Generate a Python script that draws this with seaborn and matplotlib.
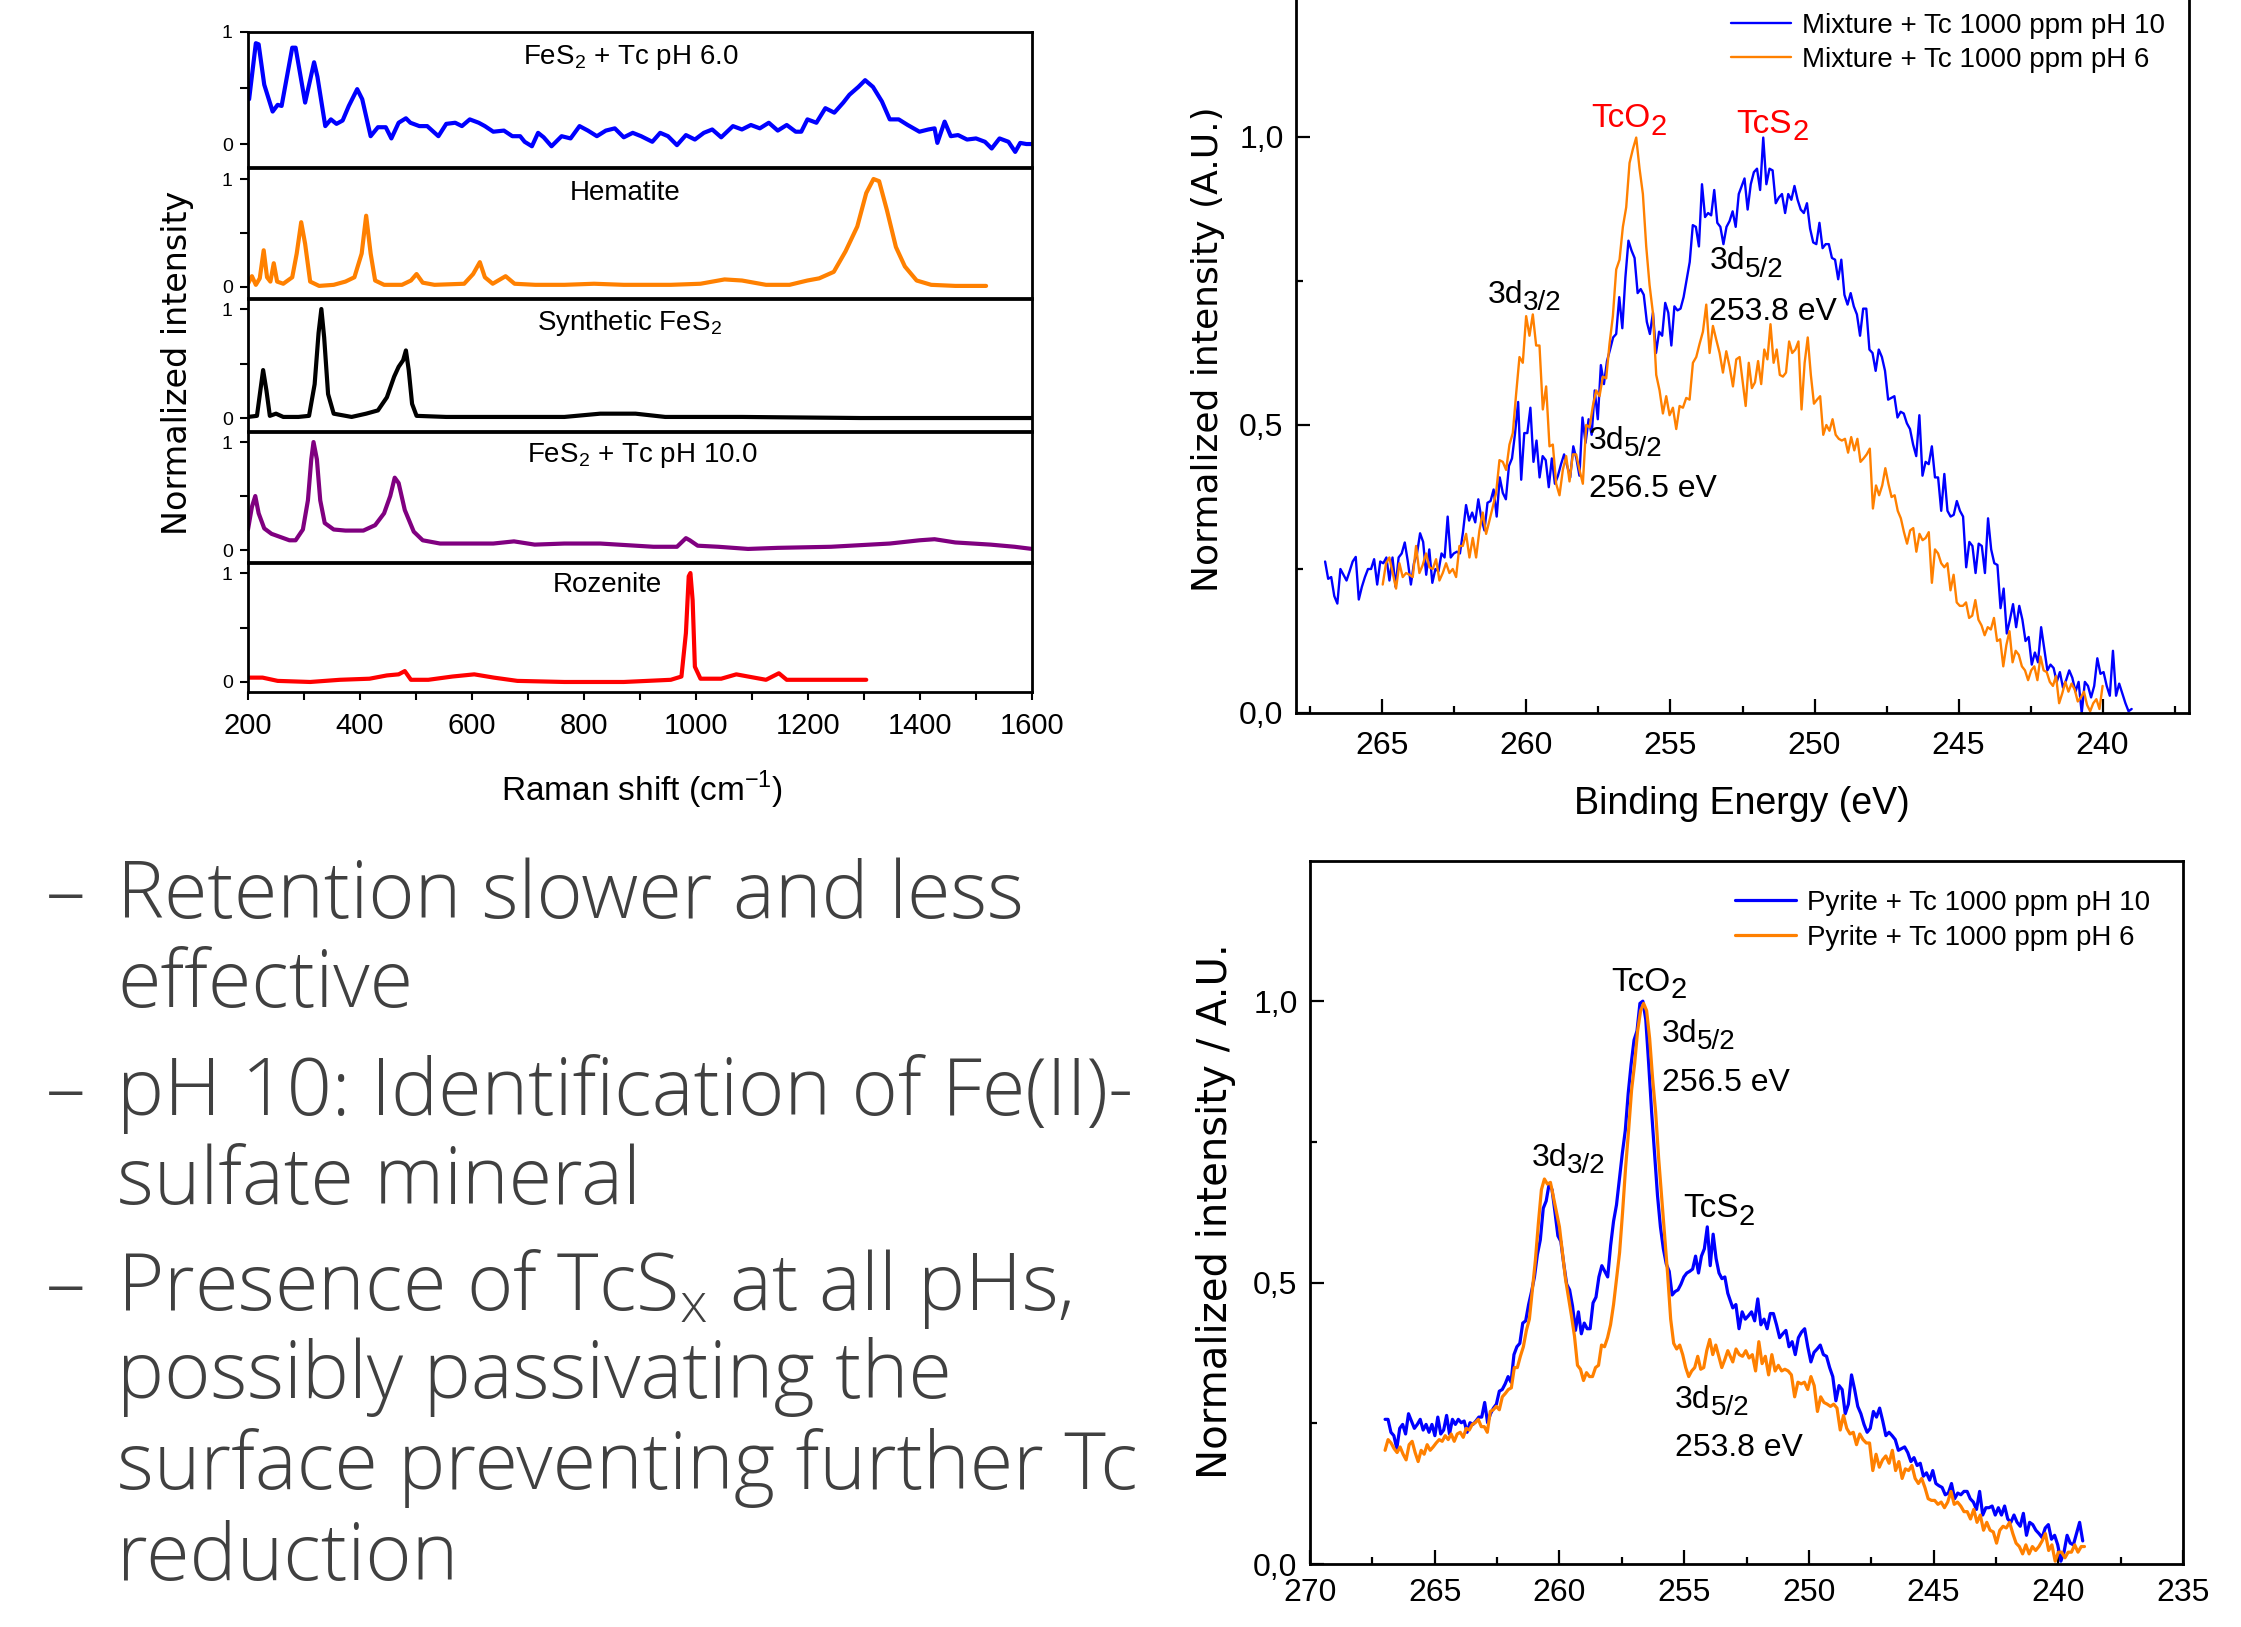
import numpy as np
import pandas as pd
import matplotlib
matplotlib.use("Agg")
import matplotlib.pyplot as plt
import seaborn as sns
from matplotlib.transforms import offset_copy
from matplotlib.ticker import FuncFormatter

# ---------------- DATA ----------------
# Raman spectra (normalized intensity vs Raman shift, cm-1)
fes2_ph6_shift = [202,214,219,229,244,253,260,279,285,302,318,324,338,348,358,369,380,395,404,419,
                  432,446,456,469,482,490,506,520,540,554,570,582,596,612,623,638,657,672,686,694,
                  707,718,728,742,760,776,792,807,823,839,855,871,887,902,922,936,950,966,982,998,
                  1014,1029,1045,1066,1082,1098,1114,1130,1146,1162,1178,1188,1199,1215,1231,1247,1263,1274,1290,1302,
                  1316,1332,1346,1362,1378,1399,1415,1426,1431,1444,1455,1468,1484,1500,1516,1528,1542,1558,1570,1579,
                  1590,1600]
fes2_ph6_int = [0.40,0.90,0.89,0.53,0.29,0.35,0.34,0.86,0.86,0.37,0.73,0.60,0.16,0.22,0.18,0.21,0.34,0.49,0.40,0.07,
                0.15,0.15,0.05,0.19,0.23,0.19,0.16,0.16,0.07,0.18,0.19,0.16,0.22,0.19,0.16,0.11,0.12,0.07,0.07,0.02,
                -0.02,0.10,0.06,-0.02,0.07,0.05,0.16,0.12,0.07,0.12,0.14,0.06,0.10,0.07,0.02,0.10,0.07,-0.01,0.08,0.04,
                0.10,0.13,0.06,0.16,0.13,0.17,0.14,0.19,0.12,0.17,0.11,0.11,0.22,0.19,0.32,0.28,0.37,0.44,0.51,0.57,
                0.51,0.38,0.22,0.22,0.17,0.11,0.13,0.14,0.01,0.20,0.07,0.08,0.04,0.05,0.02,-0.04,0.05,0.02,-0.07,0.01,
                0.00,0.00]

hematite_shift = [200,207,214,221,228,234,240,246,252,263,279,287,295,302,311,327,353,374,390,403,
                  411,419,427,443,475,491,501,512,533,586,602,614,623,637,660,676,713,765,818,871,
                  955,1008,1051,1082,1125,1167,1199,1220,1246,1267,1288,1304,1317,1327,1341,1357,1373,1394,1420,1463,
                  1518]
hematite_int = [0.03,0.10,0.02,0.08,0.34,0.09,0.05,0.22,0.05,0.03,0.09,0.31,0.60,0.40,0.05,0.01,0.02,0.05,0.09,0.31,
                0.66,0.31,0.06,0.02,0.02,0.06,0.12,0.04,0.02,0.03,0.12,0.23,0.09,0.03,0.10,0.03,0.02,0.02,0.03,0.02,
                0.02,0.03,0.07,0.06,0.02,0.02,0.06,0.08,0.14,0.33,0.56,0.87,1.00,0.98,0.71,0.37,0.19,0.06,0.02,0.01,
                0.01]

synth_shift = [200,216,222,227,233,239,250,263,290,309,319,326,331,336,343,353,385,411,432,448,
               461,469,477,482,487,493,501,554,660,765,829,892,945,1082,1294,1600]
synth_int = [0.01,0.02,0.25,0.44,0.25,0.02,0.04,0.01,0.01,0.02,0.31,0.78,1.00,0.74,0.22,0.04,0.01,0.04,0.07,0.19,
             0.38,0.47,0.53,0.62,0.44,0.13,0.02,0.01,0.01,0.01,0.04,0.04,0.01,0.01,0.00,0.00]

fes2_ph10_shift = [200,207,213,219,229,242,258,274,285,298,307,313,317,323,329,337,353,374,406,427,
                   443,454,462,469,480,496,512,543,596,638,675,712,765,829,924,966,982,989,1003,1040,
                   1093,1146,1241,1346,1399,1426,1463,1526,1569,1600]
fes2_ph10_int = [0.19,0.40,0.50,0.34,0.20,0.15,0.12,0.09,0.09,0.19,0.46,0.84,1.00,0.84,0.46,0.25,0.19,0.18,0.18,0.23,
                 0.34,0.50,0.67,0.62,0.37,0.17,0.09,0.06,0.06,0.06,0.08,0.05,0.06,0.06,0.03,0.03,0.11,0.09,0.04,0.03,
                 0.01,0.02,0.03,0.06,0.09,0.10,0.07,0.05,0.03,0.01]

rozenite_shift = [200,226,253,311,364,417,448,469,480,491,522,565,604,639,681,765,871,955,974,982,
                  987,990,994,998,1008,1045,1072,1093,1125,1148,1162,1209,1304]
rozenite_int = [0.04,0.04,0.01,0.00,0.02,0.03,0.06,0.07,0.10,0.02,0.02,0.05,0.07,0.04,0.01,0.00,0.00,0.02,0.05,0.45,
                0.97,1.00,0.75,0.14,0.03,0.03,0.07,0.05,0.02,0.08,0.02,0.02,0.02]

raman_labels = [r"FeS$_\mathregular{2}$ + Tc pH 6.0", "Hematite", r"Synthetic FeS$_\mathregular{2}$",
                r"FeS$_\mathregular{2}$ + Tc pH 10.0", "Rozenite"]

# XPS Tc 3d, mixture (top right); recorded on a regular energy grid, two sections
mix_ph10_range = [(266.99, 252.63), (252.43, 238.99)]
mix_ph10_a = [0.263,0.233,0.236,0.203,0.190,0.250,0.240,0.230,0.246,0.263,
              0.271,0.197,0.219,0.236,0.250,0.250,0.267,0.223,0.263,0.260,
              0.270,0.230,0.270,0.219,0.270,0.277,0.296,0.263,0.223,0.260,
              0.277,0.312,0.297,0.240,0.284,0.226,0.250,0.246,0.277,0.270,
              0.341,0.270,0.277,0.280,0.277,0.314,0.361,0.334,0.348,0.331,
              0.371,0.338,0.317,0.365,0.368,0.388,0.341,0.409,0.382,0.371,
              0.429,0.442,0.486,0.540,0.405,0.486,0.486,0.530,0.436,0.473,
              0.409,0.446,0.439,0.392,0.442,0.398,0.412,0.432,0.449,0.429,
              0.409,0.463,0.442,0.412,0.513,0.469,0.510,0.483,0.560,0.510,
              0.604,0.571,0.611,0.631,0.652,0.658,0.722,0.668,0.756,0.820,
              0.803,0.790,0.729,0.736,0.726,0.679,0.658,0.695,0.625,0.662,
              0.655,0.712,0.695,0.638,0.706,0.699,0.702,0.722,0.753,0.783,
              0.847,0.844,0.810,0.918,0.861,0.868,0.864,0.908,0.851,0.844,
              0.814,0.844,0.854,0.871,0.844,0.901]
mix_ph10_b = [0.928,0.874,0.918,0.939,0.945,0.908,0.999,0.918,0.945,0.942,
              0.885,0.895,0.901,0.868,0.901,0.891,0.915,0.891,0.874,0.868,
              0.885,0.841,0.817,0.814,0.851,0.807,0.814,0.814,0.790,0.787,
              0.753,0.787,0.726,0.709,0.729,0.706,0.692,0.655,0.702,0.702,
              0.631,0.625,0.594,0.631,0.618,0.594,0.544,0.547,0.550,0.513,
              0.523,0.520,0.503,0.493,0.466,0.446,0.517,0.412,0.436,0.432,
              0.463,0.409,0.409,0.351,0.415,0.351,0.341,0.344,0.368,0.351,
              0.341,0.253,0.297,0.290,0.243,0.294,0.290,0.243,0.338,0.284,
              0.260,0.257,0.182,0.216,0.138,0.162,0.189,0.149,0.186,0.162,
              0.125,0.132,0.084,0.105,0.088,0.149,0.111,0.074,0.084,0.078,
              0.054,0.071,0.044,0.057,0.074,0.061,0.037,0.054,0.000,0.054,
              0.047,0.027,0.047,0.095,0.068,0.071,0.047,0.030,0.108,0.030,
              0.051,0.034,0.017,0.003,0.007]
mix_ph6_range = [(264.99, 252.60), (252.39, 240.00)]
mix_ph6_a = [0.223,0.260,0.270,0.243,0.216,0.260,0.236,0.243,0.240,0.236,
             0.290,0.243,0.257,0.277,0.253,0.250,0.267,0.230,0.243,0.260,
             0.243,0.250,0.236,0.290,0.290,0.311,0.270,0.304,0.270,0.317,
             0.348,0.311,0.334,0.358,0.382,0.439,0.436,0.422,0.466,0.486,
             0.554,0.618,0.608,0.689,0.655,0.692,0.638,0.638,0.527,0.567,
             0.463,0.466,0.398,0.378,0.422,0.446,0.402,0.449,0.449,0.422,
             0.398,0.500,0.496,0.533,0.560,0.550,0.584,0.581,0.641,0.689,
             0.770,0.787,0.844,0.878,0.955,0.979,0.999,0.945,0.901,0.810,
             0.743,0.695,0.587,0.560,0.520,0.550,0.517,0.530,0.493,0.533,
             0.530,0.547,0.544,0.608,0.618,0.641,0.662,0.709,0.625,0.672,
             0.648,0.625,0.591,0.628,0.601,0.567,0.614,0.618]
mix_ph6_b = [0.533,0.608,0.564,0.574,0.611,0.571,0.631,0.614,0.675,0.608,
             0.631,0.587,0.584,0.591,0.645,0.625,0.631,0.645,0.527,0.608,
             0.652,0.587,0.537,0.544,0.550,0.483,0.500,0.490,0.510,0.483,
             0.476,0.473,0.476,0.452,0.479,0.456,0.476,0.436,0.442,0.449,
             0.459,0.355,0.395,0.378,0.395,0.425,0.398,0.375,0.378,0.351,
             0.338,0.314,0.294,0.317,0.321,0.280,0.311,0.300,0.304,0.314,
             0.226,0.284,0.277,0.260,0.253,0.260,0.213,0.240,0.192,0.186,
             0.186,0.192,0.165,0.169,0.196,0.162,0.152,0.135,0.149,0.145,
             0.165,0.125,0.128,0.081,0.118,0.142,0.088,0.108,0.101,0.081,
             0.074,0.057,0.074,0.081,0.057,0.098,0.074,0.071,0.054,0.047,
             0.064,0.017,0.034,0.054,0.037,0.051,0.041,0.020,0.027,0.037,
             0.014,0.003,0.017,0.024,0.007,0.047]

# XPS Tc 3d, pyrite (bottom right)
pyr_ph10_range = [(266.99, 253.25), (253.05, 239.02)]
pyr_ph10_a = [0.257,0.257,0.234,0.228,0.205,0.241,0.248,0.231,0.267,0.254,
              0.241,0.248,0.257,0.238,0.248,0.234,0.248,0.228,0.261,0.231,
              0.238,0.264,0.231,0.257,0.248,0.257,0.251,0.254,0.234,0.251,
              0.248,0.254,0.261,0.261,0.287,0.251,0.267,0.277,0.284,0.307,
              0.310,0.320,0.333,0.323,0.372,0.386,0.392,0.428,0.432,0.461,
              0.484,0.510,0.550,0.576,0.632,0.645,0.675,0.665,0.625,0.583,
              0.573,0.533,0.497,0.487,0.458,0.415,0.448,0.409,0.428,0.418,
              0.418,0.464,0.474,0.510,0.530,0.520,0.510,0.566,0.609,0.638,
              0.684,0.730,0.770,0.836,0.888,0.931,0.947,0.996,1.000,0.967,
              0.888,0.803,0.730,0.655,0.599,0.560,0.533,0.520,0.478,0.484,
              0.487,0.497,0.510,0.517,0.520,0.524,0.547,0.517,0.547,0.560,
              0.599,0.530,0.586,0.543,0.517,0.507,0.510,0.481]
pyr_ph10_b = [0.455,0.461,0.418,0.448,0.435,0.441,0.448,0.432,0.471,0.425,
              0.435,0.418,0.445,0.445,0.425,0.402,0.409,0.415,0.386,0.395,
              0.372,0.402,0.412,0.418,0.386,0.359,0.376,0.382,0.389,0.372,
              0.369,0.349,0.333,0.290,0.317,0.310,0.267,0.284,0.336,0.310,
              0.280,0.267,0.248,0.234,0.241,0.271,0.261,0.277,0.254,0.228,
              0.234,0.228,0.221,0.202,0.205,0.208,0.198,0.182,0.189,0.175,
              0.179,0.156,0.162,0.149,0.166,0.143,0.139,0.136,0.123,0.126,
              0.143,0.116,0.126,0.123,0.129,0.129,0.116,0.110,0.097,0.129,
              0.087,0.100,0.100,0.103,0.087,0.100,0.087,0.103,0.080,0.074,
              0.087,0.074,0.067,0.090,0.051,0.074,0.070,0.060,0.054,0.047,
              0.064,0.070,0.044,0.051,0.034,0.005,0.021,0.051,0.037,0.034,
              0.054,0.074,0.041]
pyr_ph6_range = [(266.99, 253.25), (253.05, 238.95)]
pyr_ph6_a = [0.202,0.221,0.215,0.205,0.198,0.208,0.195,0.185,0.212,0.218,
             0.198,0.182,0.202,0.195,0.212,0.202,0.208,0.215,0.221,0.218,
             0.228,0.221,0.231,0.218,0.231,0.234,0.225,0.241,0.238,0.248,
             0.251,0.257,0.244,0.244,0.234,0.271,0.274,0.280,0.274,0.297,
             0.303,0.310,0.313,0.349,0.349,0.369,0.386,0.415,0.435,0.487,
             0.540,0.606,0.665,0.684,0.675,0.678,0.652,0.625,0.599,0.553,
             0.507,0.474,0.441,0.405,0.353,0.346,0.326,0.340,0.333,0.333,
             0.349,0.353,0.389,0.386,0.402,0.425,0.461,0.507,0.553,0.625,
             0.704,0.770,0.842,0.888,0.947,0.983,0.996,0.983,0.934,0.862,
             0.803,0.721,0.652,0.583,0.514,0.435,0.392,0.382,0.389,0.372,
             0.349,0.333,0.343,0.349,0.369,0.346,0.349,0.379,0.399,0.372,
             0.389,0.369,0.349,0.363,0.379]
pyr_ph6_b = [0.359,0.382,0.372,0.369,0.379,0.366,0.372,0.343,0.395,0.356,
             0.369,0.336,0.372,0.343,0.353,0.343,0.346,0.343,0.336,0.297,
             0.323,0.320,0.323,0.310,0.333,0.317,0.271,0.297,0.287,0.284,
             0.280,0.284,0.277,0.238,0.264,0.241,0.231,0.234,0.212,0.231,
             0.221,0.215,0.215,0.166,0.195,0.172,0.185,0.192,0.179,0.202,
             0.166,0.182,0.152,0.169,0.166,0.175,0.152,0.143,0.152,0.136,
             0.116,0.113,0.113,0.106,0.110,0.100,0.110,0.129,0.106,0.110,
             0.103,0.093,0.093,0.080,0.097,0.074,0.087,0.060,0.074,0.060,
             0.057,0.037,0.060,0.067,0.064,0.074,0.054,0.037,0.031,0.018,
             0.034,0.018,0.031,0.024,0.031,0.041,0.054,0.024,0.034,0.005,
             0.021,0.021,0.011,0.021,0.021,0.034,0.021,0.031,0.031]

legend_top = ["Mixture + Tc 1000 ppm pH 10", "Mixture + Tc 1000 ppm pH 6"]
legend_bottom = ["Pyrite + Tc 1000 ppm pH 10", "Pyrite + Tc 1000 ppm pH 6"]

bullets = [("\u2013", "Retention slower and less"), ("", "effective"),
           ("\u2013", "pH 10: Identification of Fe(II)-"), ("", "sulfate mineral"),
           ("\u2013", r"Presence of TcS$_\mathregular{x}$ at all pHs,"), ("", "possibly passivating the"),
           ("", "surface preventing further Tc"), ("", "reduction")]

# ---------------- STYLE ----------------
sns.set_style("white")
plt.rcParams['font.family'] = ['Liberation Sans', 'DejaVu Sans']
plt.rcParams.update({'axes.edgecolor': 'black', 'xtick.color': 'black', 'ytick.color': 'black',
                     'text.color': 'black', 'axes.labelcolor': 'black', 'axes.linewidth': 2.0})

W, H = 2241, 1627
fig = plt.figure(figsize=(W / 100, H / 100), dpi=100)
renderer = fig.canvas.get_renderer()


def px_axes(left, top, right, bottom):
    return fig.add_axes([left / W, 1 - bottom / H, (right - left) / W, (bottom - top) / H])


def xps_energy(rng, a, b):
    return np.concatenate([np.linspace(rng[0][0], rng[0][1], len(a)),
                           np.linspace(rng[1][0], rng[1][1], len(b))])


BLUE, ORANGE, PURPLE, RED = "#0000FF", "#FF8000", "#800080", "#FF0000"

# ---------------- RAMAN STACK ----------------
raman = [(fes2_ph6_shift, fes2_ph6_int, BLUE), (hematite_shift, hematite_int, ORANGE),
         (synth_shift, synth_int, "black"), (fes2_ph10_shift, fes2_ph10_int, PURPLE),
         (rozenite_shift, rozenite_int, RED)]
panel_px = [(32, 167, (-0.205, 1.0)), (168, 298, (-0.102, 1.102)), (299, 431, (-0.119, 1.092)),
            (432, 562, (-0.111, 1.093)), (563, 692, (-0.092, 1.092))]
label_pos = [(884, 0.714), (873, 0.81), (881, 0.807), (905, 0.818), (841, 0.828)]

for i, ((xs, ys, col), (top, bot, yl), (lx, ly), lab) in enumerate(zip(raman, panel_px, label_pos, raman_labels)):
    ax = px_axes(248, top, 1032, bot)
    df = pd.DataFrame({"shift": xs, "I": ys})
    sns.lineplot(data=df, x="shift", y="I", ax=ax, color=col, linewidth=3.0, sort=False, estimator=None)
    ax.set_xlim(200, 1600)
    ax.set_ylim(*yl)
    ax.set_xlabel("")
    ax.set_ylabel("")
    ax.set_yticks([0, 1])
    ax.set_yticklabels(["0", "1"])
    ax.set_yticks([0.5], minor=True)
    ax.tick_params(axis='y', which='both', direction='out', left=True, length=6, width=1.5,
                   labelsize=14, pad=5)
    for s in ax.spines.values():
        s.set_linewidth(2.0)
    if i < 4:
        ax.tick_params(axis='x', which='both', bottom=False, labelbottom=False)
    else:
        ax.set_xticks(np.arange(200, 1601, 200))
        ax.set_xticks(np.arange(300, 1600, 200), minor=True)
        ax.tick_params(axis='x', which='both', direction='out', bottom=True, length=6, width=1.5,
                       labelsize=21, pad=8.5)
    ax.text(lx, ly, lab, ha='center', va='baseline', fontsize=20)

fig.text(642 / W, 1 - 801 / H, r"Raman shift (cm$^{\mathregular{-1}}$)", ha='center', va='baseline', fontsize=24)
fig.text(177 / W, 1 - 363 / H, "Normalized intensity", rotation=90, ha='center', va='center',
         fontsize=24, family='DejaVu Sans')


# ---------------- XPS helpers ----------------
def sub_label(ax, x, y, main, sub, size=23, color="black", scale=0.87, drop=0.22):
    t = ax.text(x, y, main, fontsize=size, color=color, ha='left', va='baseline')
    w = t.get_window_extent(renderer=renderer).width
    tr = offset_copy(ax.transData, fig=fig, x=w, y=-drop * size * 100 / 72, units='dots')
    ax.text(x, y, sub, fontsize=size * scale, color=color, ha='left', va='baseline', transform=tr)


def style_xps(ax, xlim, ylim, xmajor, xminor, xpad, lw=2.0):
    ax.set_xlim(*xlim)
    ax.set_ylim(*ylim)
    ax.set_xlabel("")
    ax.set_ylabel("")
    ax.set_xticks(xmajor)
    ax.set_xticks(xminor, minor=True)
    ax.set_yticks([0.0, 0.5, 1.0])
    ax.set_yticks([0.25, 0.75], minor=True)
    ax.yaxis.set_major_formatter(FuncFormatter(lambda v, p: f"{v:.1f}".replace('.', ',')))
    ax.tick_params(axis='both', which='major', direction='in', length=10, width=1.6, labelsize=23)
    ax.tick_params(axis='both', which='minor', direction='in', length=5, width=1.6)
    ax.tick_params(axis='x', which='both', bottom=True, top=False, pad=xpad)
    ax.tick_params(axis='y', which='both', left=True, right=False, pad=9)
    for s in ax.spines.values():
        s.set_linewidth(lw)


# ---------------- XPS top (mixture) ----------------
axt = px_axes(1296, -12, 2189, 713)
top_df = pd.concat([
    pd.DataFrame({"E": xps_energy(mix_ph10_range, mix_ph10_a, mix_ph10_b), "I": mix_ph10_a + mix_ph10_b,
                  "s": legend_top[0]}),
    pd.DataFrame({"E": xps_energy(mix_ph6_range, mix_ph6_a, mix_ph6_b), "I": mix_ph6_a + mix_ph6_b,
                  "s": legend_top[1]})])
for name, col in zip(legend_top, [BLUE, ORANGE]):
    d = top_df[top_df["s"] == name]
    sns.lineplot(data=d, x="E", y="I", ax=axt, color=col, linewidth=1.7, sort=False, estimator=None, label=name)
style_xps(axt, (268, 237), (0, 725 / 576), np.arange(240, 266, 5), np.arange(237.5, 268, 5), xpad=13)
axt.legend(loc='upper left', bbox_to_anchor=(1731 / W, 1 - 13 / H), bbox_transform=fig.transFigure,
           frameon=False, fontsize=20, handlelength=2.15, handletextpad=0.4, labelspacing=0.28,
           borderpad=0, borderaxespad=0)
sub_label(axt, 257.75, 1.017, "TcO", "2", size=24, color=RED)
sub_label(axt, 252.70, 1.007, "TcS", "2", size=24, color=RED)
sub_label(axt, 261.34, 0.712, "3d", "3/2")
sub_label(axt, 253.65, 0.770, "3d", "5/2")
axt.text(253.65, 0.682, "253.8 eV", fontsize=23, ha='left', va='baseline')
sub_label(axt, 257.84, 0.459, "3d", "5/2")
axt.text(257.84, 0.375, "256.5 eV", fontsize=23, ha='left', va='baseline')
fig.text(1742 / W, 1 - 814 / H, "Binding Energy (eV)", ha='center', va='baseline', fontsize=27)
fig.text(1208 / W, 1 - 349 / H, "Normalized intensity (A.U.)", rotation=90, ha='center', va='center',
         fontsize=26, family='DejaVu Sans')

# ---------------- XPS bottom (pyrite) ----------------
axb = px_axes(1310, 861, 2183, 1564)
bot_df = pd.concat([
    pd.DataFrame({"E": xps_energy(pyr_ph10_range, pyr_ph10_a, pyr_ph10_b), "I": pyr_ph10_a + pyr_ph10_b,
                  "s": legend_bottom[0]}),
    pd.DataFrame({"E": xps_energy(pyr_ph6_range, pyr_ph6_a, pyr_ph6_b), "I": pyr_ph6_a + pyr_ph6_b,
                  "s": legend_bottom[1]})])
for name, col in zip(legend_bottom, [BLUE, ORANGE]):
    d = bot_df[bot_df["s"] == name]
    sns.lineplot(data=d, x="E", y="I", ax=axb, color=col, linewidth=2.3, sort=False, estimator=None, label=name)
style_xps(axb, (270, 235), (0, 1.249), np.arange(235, 271, 5), np.arange(237.5, 270, 5), xpad=10)
axb.legend(loc='upper left', bbox_to_anchor=(1735 / W, 1 - 890 / H), bbox_transform=fig.transFigure,
           frameon=False, fontsize=20, handlelength=2.2, handletextpad=0.4, labelspacing=0.33,
           borderpad=0, borderaxespad=0)
sub_label(axb, 257.91, 1.018, "TcO", "2", size=24)
sub_label(axb, 255.90, 0.928, "3d", "5/2")
axb.text(255.90, 0.841, "256.5 eV", fontsize=23, ha='left', va='baseline')
sub_label(axb, 261.11, 0.707, "3d", "3/2")
sub_label(axb, 255.03, 0.616, "TcS", "2", size=24)
sub_label(axb, 255.37, 0.277, "3d", "5/2")
axb.text(255.37, 0.191, "253.8 eV", fontsize=23, ha='left', va='baseline')
fig.text(1216 / W, 1 - 1211 / H, "Normalized intensity / A.U.", rotation=90, ha='center', va='center',
         fontsize=29, family='DejaVu Sans')

# ---------------- BULLET TEXT ----------------
baselines = [918, 1007, 1115, 1204, 1310, 1398, 1489, 1580]
bfont = dict(family=['Open Sans', 'DejaVu Sans'], weight='light', color='#404040', fontsize=57)
for (dash, line), yb in zip(bullets, baselines):
    if dash:
        fig.text(46 / W, 1 - yb / H, dash, ha='left', va='baseline', **bfont)
    fig.text(117 / W, 1 - yb / H, line, ha='left', va='baseline', **bfont)

fig.savefig("out.png", dpi=100, facecolor='white')
